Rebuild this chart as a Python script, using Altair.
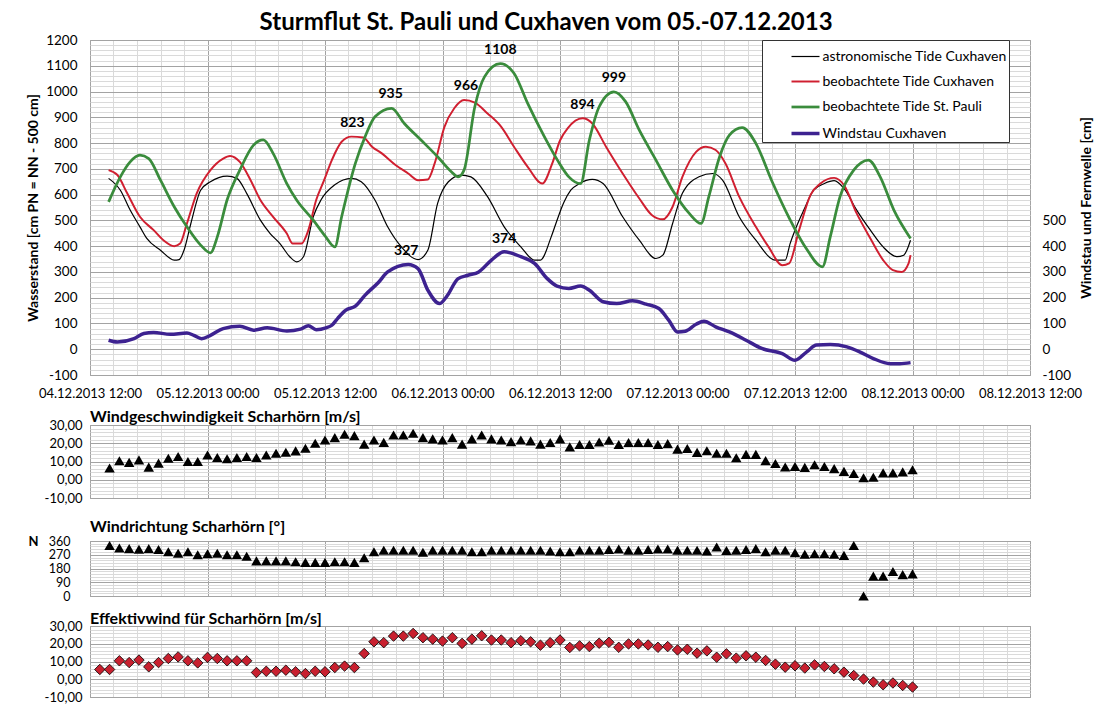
import json
import altair as alt
import pandas as pd

# ---------------- data (hours after 04.12.2013 12:00) ----------------
TITLE = "Sturmflut St. Pauli und Cuxhaven vom 05.-07.12.2013"
SERIES = ["astronomische Tide Cuxhaven", "beobachtete Tide Cuxhaven",
          "beobachtete Tide St. Pauli", "Windstau Cuxhaven"]
COLORS = ["#000000", "#d01f30", "#3a8c3c", "#3d2290"]
WIDTHS = [1.2, 3.5, 3.5, 3.5]

X_TICK_LABELS = ["04.12.2013 12:00", "05.12.2013 00:00", "05.12.2013 12:00",
                 "06.12.2013 00:00", "06.12.2013 12:00", "07.12.2013 00:00",
                 "07.12.2013 12:00", "08.12.2013 00:00", "08.12.2013 12:00"]

ASTRO_H = [1.9, 3.1, 4.1, 5.1, 5.8, 7.2, 8.6, 9.1, 9.6, 10.3, 11.3, 12.3, 14.0, 15.0, 16.0,
           17.4, 18.4, 19.4, 20.4, 21.1, 21.8, 22.8, 23.6, 25.0, 26.7, 27.7, 29.1, 30.4,
           31.8, 33.5, 34.5, 35.5, 36.6, 37.9, 38.9, 40.6, 42.3, 44.0, 45.4, 46.0, 47.1,
           47.6, 48.4, 49.1, 50.0, 51.3, 52.4, 54.4, 56.1, 57.8, 58.5, 59.5, 60.5, 62.2,
           63.6, 64.6, 66.3, 68.0, 70.0, 71.0, 71.5, 72.0, 72.9, 73.9, 75.0, 76.0, 77.0,
           78.3, 79.7, 81.0, 82.4, 83.1, 83.8]
ASTRO_V = [663, 617, 540, 475, 430, 384, 346, 348, 384, 488, 617, 650, 672, 663, 605,
           501, 449, 410, 359, 339, 359, 514, 580, 638, 663, 650, 579, 475,
           397, 348, 384, 566, 650, 676, 669, 592, 475, 397, 346, 346, 436,
           490, 570, 617, 643, 659, 643, 514, 423, 352, 365, 488, 605, 669,
           682, 656, 514, 423, 346, 346, 410, 462, 540, 617, 643, 654, 624,
           540, 462, 397, 359, 365, 423]

CUX_H = [1.9, 2.8, 3.8, 5.1, 6.5, 7.5, 8.6, 9.2, 9.9, 10.9, 12.3, 13.6, 14.3, 15.3, 16.4,
         17.4, 18.7, 20.1, 20.7, 21.6, 22.3, 23.1, 23.9, 24.7, 25.7, 26.7, 27.9, 28.8,
         29.8, 31.2, 32.5, 33.5, 34.5, 35.2, 36.2, 37.2, 38.2, 39.3, 40.6, 42.0, 43.3,
         44.7, 46.2, 47.2, 48.0, 48.8, 50.3, 51.3, 52.7, 54.4, 56.1, 57.4, 58.5, 59.5,
         60.5, 61.9, 62.9, 63.9, 64.9, 66.3, 68.0, 69.3, 70.7, 71.4, 72.4, 73.6, 74.6,
         76.0, 77.0, 78.3, 79.7, 81.0, 82.0, 82.9, 83.6, 83.8]
CUX_V = [695, 676, 605, 514, 462, 423, 400, 410, 488, 605, 695, 740, 750, 727, 656,
         579, 514, 449, 410, 410, 462, 579, 655, 734, 805, 825, 822, 786,
         760, 715, 682, 656, 659, 721, 863, 935, 967, 957, 915, 863, 786,
         708, 643, 720, 810, 858, 896, 876, 786, 682, 585, 520, 504, 553,
         669, 766, 786, 773, 721, 592, 475, 397, 326, 333, 460, 600, 643,
         665, 637, 527, 430, 346, 307, 300, 333, 365]

PAULI_H = [1.9, 3.1, 4.1, 5.1, 6.0, 7.2, 8.6, 9.9, 11.3, 12.3, 13.0, 14.0, 15.3, 16.7, 17.7,
           18.7, 20.1, 21.1, 22.8, 24.0, 25.0, 25.7, 27.1, 28.1, 29.1, 30.8, 32.1, 33.8,
           35.5, 36.9, 37.6, 38.2, 39.3, 40.3, 41.9, 43.3, 44.7, 46.4, 47.8, 48.9, 50.1,
           51.0, 52.0, 53.5, 54.7, 56.1, 57.8, 59.5, 61.2, 62.4, 63.2, 64.3, 65.3, 66.6,
           68.0, 69.6, 71.4, 73.1, 74.8, 75.6, 76.6, 78.0, 79.5, 80.7, 82.1, 83.8]
PAULI_V = [572, 669, 727, 753, 740, 656, 553, 475, 404, 374, 436, 579, 695, 792, 812,
           760, 643, 579, 501, 440, 397, 514, 721, 825, 902, 935, 876, 812,
           747, 689, 669, 695, 941, 1058, 1108, 1071, 954, 825, 730, 669, 643,
           812, 941, 999, 961, 850, 734, 617, 527, 488, 592, 747, 831, 860,
           799, 656, 510, 394, 320, 436, 592, 695, 734, 669, 540, 430]

STAU_H = [1.9, 2.8, 4.5, 5.5, 6.5, 8.2, 9.9, 10.6, 11.4, 12.3, 13.6, 15.3, 16.7, 18.1, 20.1,
          21.5, 22.3, 23.1, 24.1, 24.7, 25.3, 26.1, 27.1, 28.1, 29.5, 30.4, 32.5, 33.5,
          34.5, 35.7, 36.4, 37.6, 38.6, 39.7, 41.0, 42.3, 44.0, 45.4, 46.7, 47.7, 48.9,
          50.1, 51.0, 52.4, 53.8, 55.4, 56.8, 58.1, 59.1, 60.0, 60.8, 61.9, 62.7, 63.9,
          65.3, 67.0, 68.6, 70.7, 72.0, 73.2, 74.2, 75.6, 77.3, 78.6, 80.0, 81.7, 82.7, 83.8]
STAU_V = [35, 28, 41, 61, 65, 58, 63, 54, 41, 54, 80, 89, 74, 83, 71,
          78, 91, 76, 83, 93, 120, 151, 167, 210, 261, 300, 329, 313,
          229, 177, 203, 274, 287, 300, 346, 378, 359, 333, 274, 245, 236,
          245, 229, 184, 177, 188, 175, 158, 113, 67, 70, 97, 109, 87,
          67, 35, 3, -17, -43, -10, 16, 18, 9, -10, -36, -56, -56, -52]

PEAK_H = [26.8, 30.7, 38.4, 41.9, 50.3, 53.5, 32.3, 42.3]
PEAK_V = [823, 935, 966, 1108, 894, 999, 327, 374]

# hourly wind data
SPEED_H = list(range(2, 85))
SPEED_V = [6.4, 10.4, 9.5, 10.9, 6.9, 9.1, 11.8, 12.7, 10.0, 10.0, 13.6, 12.2, 11.5, 12.2,
           12.7, 12.2, 13.6, 14.5, 15.1, 15.8, 17.3, 20.0, 21.8, 23.1, 24.9, 24.2, 19.5,
           21.8, 20.5, 24.5, 24.5, 25.5, 23.1, 22.4, 21.8, 23.1, 19.5, 22.4, 24.5, 22.4,
           21.8, 20.9, 21.8, 21.3, 19.5, 20.4, 22.4,
           18.0, 19.3, 19.3, 20.7, 21.6, 19.3, 20.4, 20.4, 20.4, 19.3, 19.8, 16.8, 17.1,
           15.0, 15.9, 14.5, 14.5, 12.1, 13.9, 13.9, 10.5, 8.9, 7.0, 7.3, 6.8, 8.2, 7.3,
           6.1, 4.6, 3.4, 1.1, 1.4, 3.75, 3.75, 4.3, 5.5]
DIR_V = [330, 314, 310, 306, 310, 304, 290, 280, 290, 270, 276, 280, 270, 270, 260, 230,
         230, 230, 230, 224, 220, 220, 220, 224, 224, 220, 250, 290, 300, 300, 300, 300,
         286, 300, 300, 300, 300, 290, 290, 300, 300, 300, 300, 300, 300, 294, 290,
         290, 300, 300, 300, 304, 308, 300, 300, 304, 308, 308, 300, 300, 300, 294, 321,
         298, 300, 304, 310, 290, 300, 300, 283, 273, 277, 277, 273, 266, 331, 0, 130,
         130, 160, 140, 145]
EFF_H = list(range(1, 85))
EFF_V = [5.5, 5.5, 10.4, 9.4, 10.8, 7.0, 9.4, 11.7, 12.6, 10.4, 9.2, 12.3, 11.7, 10.4,
         10.4, 10.4, 3.8, 4.5, 4.5, 5.1, 4.2, 3.2, 4.5, 4.2, 6.6, 7.4, 6.6, 14.5, 21.1,
         20.6, 24.3, 24.3, 25.8, 23.4, 22.6, 21.5, 23.4, 20.2, 22.6, 24.5, 22.1, 22.1,
         20.6, 21.7, 21.1, 19.2, 20.6, 22.1,
         17.9, 18.8, 18.4, 20.3, 20.8, 18.0, 19.9, 19.9, 19.3, 18.0, 18.4, 16.5, 16.9,
         14.7, 16.0, 12.4, 14.3, 11.9, 13.2, 12.4, 10.6, 8.5, 6.8, 7.6, 6.3, 8.1, 7.2,
         5.9, 4.0, 2.1, 0.1, -1.6, -3.1, -2.1, -3.5, -4.4]

PANEL_TITLES = ["Windgeschwindigkeit Scharhörn [m/s]", "Windrichtung Scharhörn [°]",
                "Effektivwind für Scharhörn [m/s]"]

# ---------------- styling ----------------
FONT = "Lato"
MAJOR_GRID = "#a3a3a3"
MINOR_GRID = "#dadada"
W = 940

tides = pd.concat([
    pd.DataFrame({"h": ASTRO_H, "value": ASTRO_V, "series": SERIES[0]}),
    pd.DataFrame({"h": CUX_H, "value": CUX_V, "series": SERIES[1]}),
    pd.DataFrame({"h": PAULI_H, "value": PAULI_V, "series": SERIES[2]}),
])
stau = pd.DataFrame({"h": STAU_H, "value": STAU_V, "series": SERIES[3]})
peaks = pd.DataFrame({"h": PEAK_H, "value": PEAK_V})
speed = pd.DataFrame({"h": SPEED_H, "v": SPEED_V})
direc = pd.DataFrame({"h": SPEED_H, "v": DIR_V})
eff = pd.DataFrame({"h": EFF_H, "v": EFF_V})

X_MAJOR = "abs(datum.value % 12) < 0.01 || abs(datum.value % 12 - 12) < 0.01"
X_VALUES = [round(i * 2.4, 4) for i in range(41)]


def grid_color(test):
    return {"condition": {"test": test, "value": MAJOR_GRID}, "value": MINOR_GRID}


def x_axis(labels=True, spacer=0):
    kw = dict(values=X_VALUES, grid=True, gridColor=grid_color(X_MAJOR), domain=False, title=None)
    if labels:
        kw.update(labelExpr=f"({X_MAJOR}) ? {json.dumps(X_TICK_LABELS)}[round(datum.value / 12)] : ''",
                  labelPadding=12, ticks=False, labelFontSize=13, labelFlush=False,
                  labelOverlap=False, labelBound=False, labelColor="#000000")
    else:
        kw.update(labels=False)
        if spacer > 0:
            kw.update(ticks=True, tickSize=spacer, tickOpacity=0)
        else:
            kw.update(ticks=False)
    return alt.Axis(**kw)


def X(labels=True, spacer=0):
    return alt.X("h:Q", scale=alt.Scale(domain=[0, 96], nice=False, zero=False),
                 axis=x_axis(labels, spacer))


legend = alt.Legend(title=None, orient="none", legendX=672, legendY=0, fillColor="white",
                    strokeColor="#333333", padding=1.5, symbolType="stroke", symbolSize=784,
                    labelFontSize=14, labelOffset=1, rowPadding=3, symbolOffset=26,
                    labelLimit=400, labelColor="#000000")
color = alt.Color("series:N", scale=alt.Scale(domain=SERIES, range=COLORS), legend=legend)
swidth = alt.StrokeWidth("series:N", scale=alt.Scale(domain=SERIES, range=WIDTHS), legend=legend)

left_axis = alt.Axis(orient="left", values=list(range(-100, 1201, 20)),
                     labelExpr="datum.value % 100 === 0 ? '' + datum.value : ''",
                     grid=True, gridColor=grid_color("datum.value % 100 === 0"),
                     ticks=False, domain=False, labelPadding=13, labelFontSize=13.5,
                     labelColor="#000000", title="Wasserstand [cm PN = NN - 500 cm]",
                     titleFontSize=14, titleFontWeight="bold", titlePadding=5,
                     titleColor="#000000")
right_axis = alt.Axis(orient="right", values=list(range(-100, 501, 100)),
                      labelExpr="'' + datum.value", grid=False, ticks=False, domain=False,
                      labelPadding=12, labelFontSize=13.5, labelColor="#000000",
                      title="Windstau und Fernwelle [cm]", titleAngle=270, titleFontSize=14,
                      titleFontWeight="bold", titlePadding=23, titleColor="#000000")
YDOM = alt.Scale(domain=[-100, 1200], nice=False, zero=False)

tide_lines = alt.Chart(tides).mark_line(interpolate="monotone").encode(
    x=X(), y=alt.Y("value:Q", scale=YDOM, axis=left_axis), color=color, strokeWidth=swidth,
    order=alt.Order("h:Q"))
peak_text = alt.Chart(peaks).mark_text(dy=-14, fontSize=14, fontWeight="bold",
                                       color="#000000").encode(
    x=X(), y=alt.Y("value:Q", scale=YDOM, axis=left_axis), text=alt.Text("value:Q", format="d"))
stau_line = alt.Chart(stau).mark_line(interpolate="monotone").encode(
    x=X(), y=alt.Y("value:Q", scale=YDOM, axis=right_axis), color=color, strokeWidth=swidth,
    order=alt.Order("h:Q"))

main = alt.layer(alt.layer(tide_lines, peak_text), stau_line).resolve_scale(
    y="independent").properties(width=W, height=335)

COMMA = "replace((datum.value < 0 ? '-' : '') + format(abs(datum.value), '.2f'), '.', ',')"


def wind_y(field_title=None, dom=(-10, 30), step=2, major=10, expr=COMMA, **extra):
    test = f"datum.value % {major} === 0"
    ax = dict(values=list(range(dom[0], dom[1] + 1, step)),
              labelExpr=f"{test} ? {expr} : ''", grid=True, gridColor=grid_color(test),
              ticks=False, domain=False, labelPadding=8, labelFontSize=13,
              labelColor="#000000", title=field_title)
    ax.update(extra)
    return alt.Y("v:Q", scale=alt.Scale(domain=list(dom), nice=False, zero=False),
                 axis=alt.Axis(**ax))


def ptitle(text, offset):
    return alt.TitleParams(text, anchor="start", frame="group", fontSize=16,
                           fontWeight="bold", offset=offset, color="#000000")


speed_chart = alt.Chart(speed).mark_point(shape="triangle-up", filled=True, color="#000000",
                                          size=110, opacity=1).encode(
    x=X(False, 12), y=wind_y()).properties(width=W, height=73,
                                           title=ptitle(PANEL_TITLES[0], -6))

dir_chart = alt.Chart(direc).mark_point(shape="triangle-up", filled=True, color="#000000",
                                        size=110, opacity=1).encode(
    x=X(False, 0),
    y=wind_y("N", (0, 360), 18, 90, "'' + datum.value", labelPadding=20, labelFontSize=12.5,
             titleAngle=0, titleX=-52, titleY=0, titleAlign="right", titleBaseline="middle",
             titleFontSize=13, titleFontWeight="bold", titleColor="#000000")
).properties(width=W, height=55, title=ptitle(PANEL_TITLES[1], 0))

eff_chart = alt.Chart(eff).mark_point(shape="diamond", filled=True, fill="#c8202f",
                                      stroke="#000000", strokeWidth=0.8, size=110,
                                      opacity=1).encode(
    x=X(False, 0), y=wind_y()).properties(width=W, height=71,
                                          title=ptitle(PANEL_TITLES[2], -7))

chart = alt.vconcat(main, speed_chart, dir_chart, eff_chart, spacing=7).properties(
    title=alt.TitleParams(TITLE, fontSize=24, fontWeight="bold", anchor="middle", offset=-2,
                          dx=-14, color="#000000"),
    padding={"left": 18, "top": 2, "right": 5, "bottom": 0},
).configure(font=FONT).configure_view(stroke="#9a9a9a")

chart.save("out.html", embed_options={"renderer": "svg", "actions": False})
